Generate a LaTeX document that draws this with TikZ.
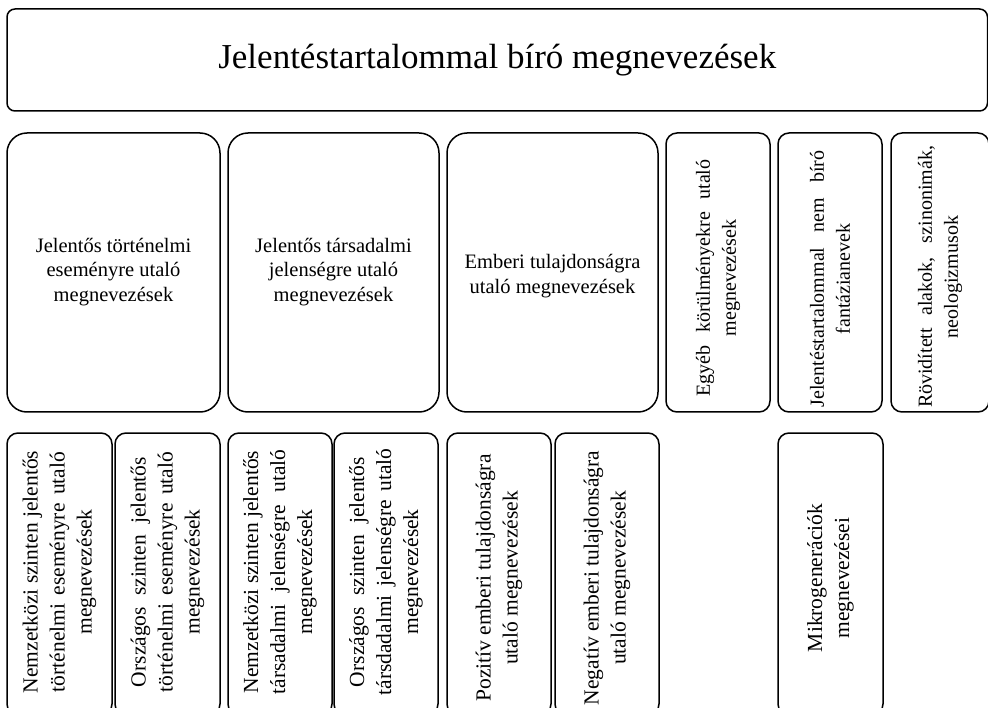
\documentclass[tikz,border=0pt]{standalone}
\usepackage{fontspec}
\setmainfont{Liberation Serif}
\newcommand{\jl}[2]{\makebox[#1][s]{#2}}
\tikzset{
  boxbase/.style={draw=black, line width=1.5pt, inner sep=0pt, outer sep=0pt, rectangle},
  titlebox/.style={boxbase, rounded corners=8pt},
  bigbox/.style={boxbase, rounded corners=20pt},
  thinbox/.style={boxbase, rounded corners=11pt},
  titletxt/.style={font=\fontsize{35}{40}\selectfont, align=center, inner sep=0pt},
  midtxt/.style={font=\fontsize{20.5}{24.5}\selectfont, align=center, inner sep=0pt},
  rottxt/.style={font=\fontsize{20}{26}\selectfont, align=center, inner sep=0pt, rotate=90},
  lowtxt/.style={font=\fontsize{21.5}{27}\selectfont, align=center, inner sep=0pt, rotate=90}
}
\begin{document}
\begin{tikzpicture}[x=1pt,y=-1pt]
\useasboundingbox (0,0) rectangle (988,708);
% title
\node[titlebox, minimum width=980.5pt, minimum height=102pt] (T) at (497.25,60) {};
\node[titletxt] (Tt) at (T.center) {Jelentéstartalommal bíró megnevezések};
% second row
\node[bigbox, minimum width=213pt, minimum height=279pt] (B1) at (113.5,272.5) {};
\node[bigbox, minimum width=211pt, minimum height=279pt] (B2) at (333.5,272.5) {};
\node[bigbox, minimum width=211pt, minimum height=279pt] (B3) at (552.5,272.5) {};
\node[thinbox, minimum width=104pt, minimum height=279pt] (B4) at (718,272.5) {};
\node[thinbox, minimum width=104pt, minimum height=279pt] (B5) at (830,272.5) {};
\node[thinbox, minimum width=98pt, minimum height=279pt] (B6) at (940,272.5) {};
\node[midtxt] (B1t) at (113.5,272) {Jelentős történelmi\\eseményre utaló\\megnevezések};
\node[midtxt] (B2t) at (333.5,272) {Jelentős társadalmi\\jelenségre utaló\\megnevezések};
\node[midtxt] (B3t) at (552.5,276) {Emberi tulajdonságra\\utaló megnevezések};
\node[rottxt] (B4t) at (718,278) {\jl{237pt}{Egyéb körülményekre utaló}\\megnevezések};
\node[rottxt] (B5t) at (830,279) {\jl{257pt}{Jelentéstartalommal nem bíró}\\fantázianevek};
\node[rottxt] (B6t) at (940,277) {\jl{262pt}{Rövidített alakok, szinonimák,}\\neologizmusok};
% third row
\node[thinbox, minimum width=105pt, minimum height=282pt] (C1) at (59.5,574) {};
\node[thinbox, minimum width=105pt, minimum height=282pt] (C2) at (167.5,574) {};
\node[thinbox, minimum width=104pt, minimum height=282pt] (C3) at (280,574) {};
\node[thinbox, minimum width=104pt, minimum height=282pt] (C4) at (386,574) {};
\node[thinbox, minimum width=104pt, minimum height=282pt] (C5) at (499,574) {};
\node[thinbox, minimum width=104pt, minimum height=282pt] (C6) at (607,574) {};
\node[thinbox, minimum width=105pt, minimum height=282pt] (C7) at (830.5,574) {};
\node[lowtxt] (C1t) at (59.5,572) {Nemzetközi szinten jelentős\\\jl{240pt}{történelmi eseményre utaló}\\megnevezések};
\node[lowtxt] (C2t) at (167.5,572) {\jl{230pt}{Országos szinten jelentős}\\\jl{240pt}{történelmi eseményre utaló}\\megnevezések};
\node[lowtxt] (C3t) at (280,572) {Nemzetközi szinten jelentős\\\jl{245pt}{társadalmi jelenségre utaló}\\megnevezések};
\node[lowtxt] (C4t) at (386,572) {\jl{230pt}{Országos szinten jelentős}\\\jl{247pt}{társdadalmi jelenségre utaló}\\megnevezések};
\node[lowtxt] (C5t) at (499,578) {Pozitív emberi tulajdonságra\\utaló megnevezések};
\node[lowtxt] (C6t) at (607,578) {Negatív emberi tulajdonságra\\utaló megnevezések};
\node[lowtxt] (C7t) at (830.5,578) {Mikrogenerációk\\megnevezései};
\end{tikzpicture}
\end{document}
